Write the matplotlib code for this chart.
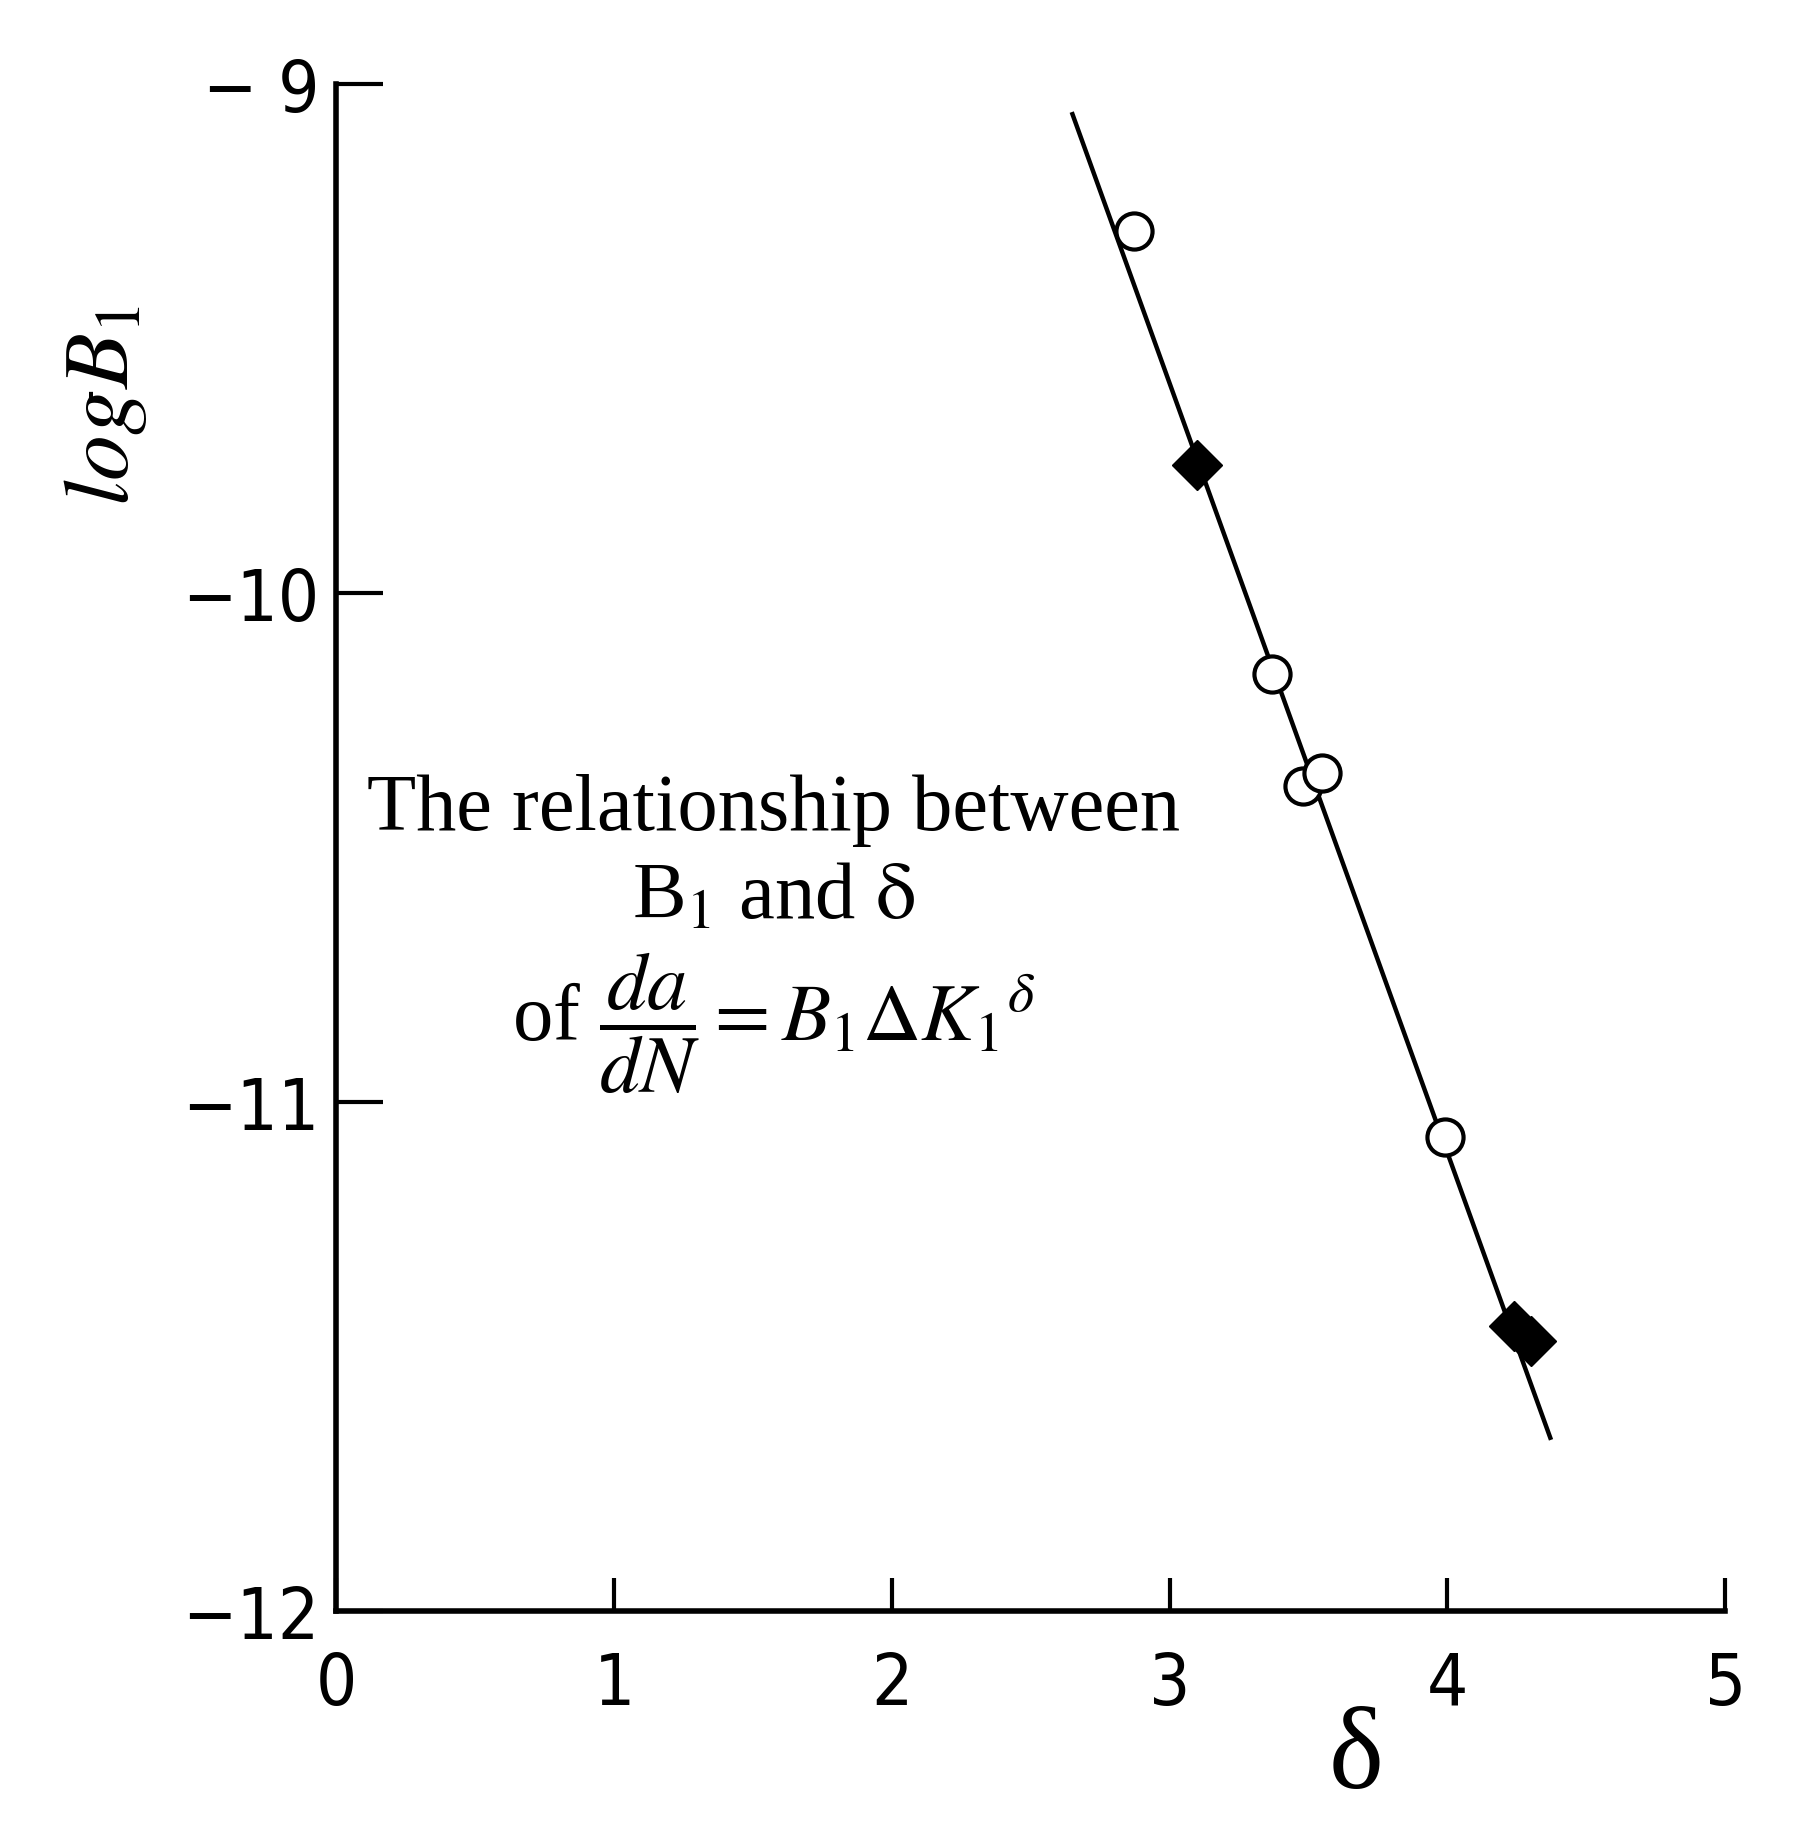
import matplotlib
matplotlib.use('Agg')
import matplotlib.pyplot as plt

plt.rcParams['mathtext.fontset'] = 'stix'

# values
delta_open = [2.87, 3.37, 3.48, 3.55, 3.99]
logb_open = [-9.29, -10.16, -10.38, -10.355, -11.07]
delta_filled = [3.10, 4.24, 4.30]
logb_filled = [-9.75, -11.44, -11.47]
fit_delta = [2.65, 4.37]
fit_logb = [-9.06, -11.66]

xticks = [0, 1, 2, 3, 4, 5]
yticks = [-12, -11, -10, -9]
ytick_labels = ['\u221212', '\u221211', '\u221210', '\u2212 9']

fig = plt.figure(figsize=(18.18, 18.40), dpi=100)
ax = fig.add_axes([0.185, 0.124, 0.764, 0.830])

ax.plot(fit_delta, fit_logb, color='black', lw=3.2, zorder=2)
ax.plot(delta_open, logb_open, 'o', ms=26, mfc='white', mec='black', mew=3.0, zorder=3)
ax.plot(delta_filled, logb_filled, 'D', ms=25, mfc='black', mec='black', zorder=3)

ax.set_xlim(0, 5)
ax.set_ylim(-12, -9)
for s in ['top', 'right']:
    ax.spines[s].set_visible(False)
for s in ['left', 'bottom']:
    ax.spines[s].set_linewidth(4)

tick_font = dict(family='DejaVu Sans', stretch='condensed', size=52)
ax.set_xticks(xticks)
ax.set_xticklabels([str(t) for t in xticks], **tick_font)
ax.set_yticks(yticks)
ax.set_yticklabels(ytick_labels, **tick_font)
ax.tick_params(axis='x', direction='in', length=24, width=3, pad=28)
ax.tick_params(axis='y', direction='in', length=34, width=3, pad=12)

ax.set_xlabel('\u03b4', fontsize=84, family='Liberation Serif', labelpad=0)
ax.xaxis.set_label_coords(0.734, -0.062)
ax.set_ylabel(r'$logB_1$', fontsize=66)
ax.yaxis.set_label_coords(-0.135, 0.79)

ax.text(0.315, 0.525, 'The relationship between', transform=ax.transAxes,
        ha='center', va='center', fontsize=58, family='Liberation Serif')
ax.text(0.315, 0.467, r'B$_1$ and $\mathrm{\delta}$', transform=ax.transAxes,
        ha='center', va='center', fontsize=58, family='Liberation Serif')
ax.text(0.315, 0.385, r'of $\dfrac{da}{dN} = B_1\Delta K_1{}^{\delta}$', transform=ax.transAxes,
        ha='center', va='center', fontsize=58, family='Liberation Serif')

fig.savefig('out.png', dpi=100, facecolor='white')
